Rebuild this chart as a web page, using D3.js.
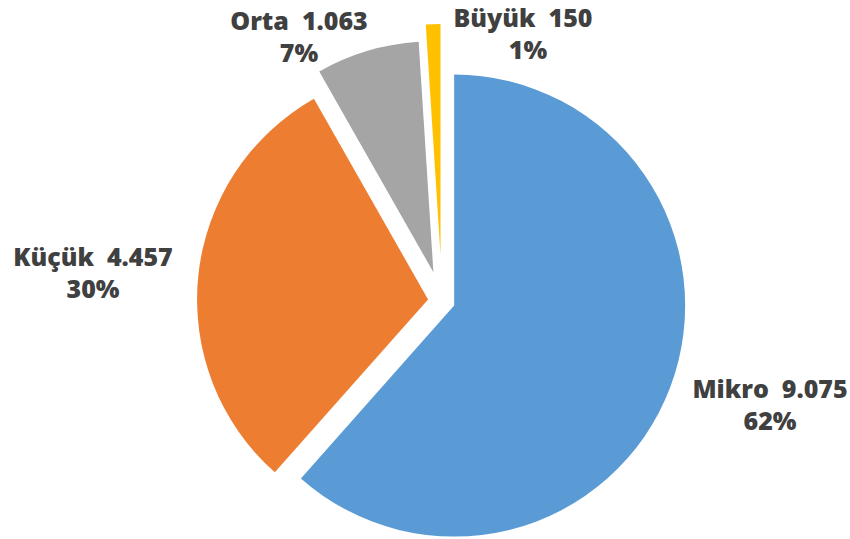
<!DOCTYPE html>
<html><head><meta charset="utf-8">
<script src="https://cdn.jsdelivr.net/npm/d3@7"></script>
<style>
html,body{margin:0;padding:0;background:#fff;}
svg{display:block;}
text{font-family:"Open Sans", Lato, sans-serif;font-weight:800;fill:#404040;}
</style></head>
<body>
<svg id="chart" width="850" height="539"></svg>
<script>
const categories = ["Mikro", "Küçük", "Orta", "Büyük"];
const values = [9075, 4457, 1063, 150];
const valueLabels = ["9.075", "4.457", "1.063", "150"];
const percentLabels = ["62%", "30%", "7%", "1%"];

const colors = ["#5B9BD5", "#ED7D31", "#A5A5A5", "#FFC000"];
const explode = [13, 14, 30, 46];
const labelPos = [[770, 398], [93, 266], [299, 30], [523, 27]];

const W = 850, H = 539;
const cx = 442, cy = 301, R = 231;
const svg = d3.select("#chart");

const pie = d3.pie().sort(null).startAngle(0).endAngle(2 * Math.PI);
const arcs = pie(values);
const arc = d3.arc().innerRadius(0).outerRadius(R);

const g = svg.append("g").attr("transform", `translate(${cx},${cy})`);
g.selectAll("path").data(arcs).enter().append("path")
  .attr("d", arc)
  .attr("fill", (d, i) => colors[i])
  .attr("transform", (d, i) => {
    const a = (d.startAngle + d.endAngle) / 2;
    return `translate(${Math.sin(a) * explode[i]},${-Math.cos(a) * explode[i]})`;
  });

const lbl = svg.append("g");
categories.forEach((c, i) => {
  const t = lbl.append("text")
    .attr("text-anchor", "middle")
    .attr("font-size", 25)
    .attr("x", labelPos[i][0]).attr("y", labelPos[i][1]);
  t.append("tspan").attr("x", labelPos[i][0]).text(c + "\u00A0\u00A0" + valueLabels[i]);
  t.append("tspan").attr("x", labelPos[i][0] + (i === 3 ? 5 : 0)).attr("dy", 32).text(percentLabels[i]);
});
</script>
</body></html>
